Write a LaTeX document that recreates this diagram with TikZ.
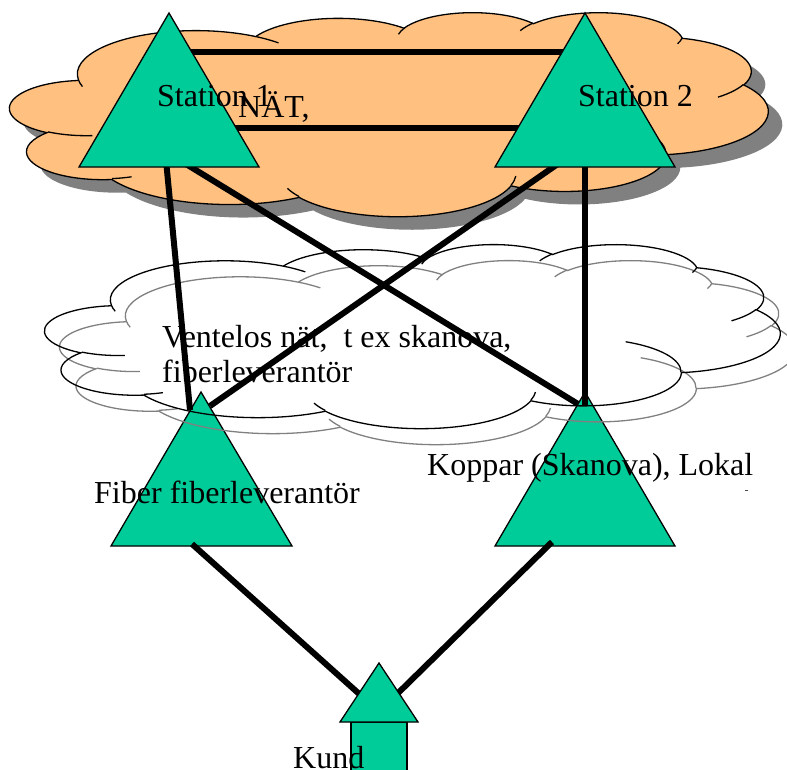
\documentclass[tikz,border=0pt]{standalone}
\usepackage{fontspec}
\setmainfont{Liberation Serif}
\definecolor{cloudorange}{RGB}{255,192,128}
\definecolor{sitegreen}{RGB}{0,204,153}
\definecolor{shadowgray}{RGB}{128,128,128}

% Cloud outline, drawn on a 432 x 432 grid (y pointing down)
\newcommand\cloudshape{(39.00,143.70)
  arc[start angle=-187.75,end angle=-59.64,x radius=67.53,y radius=91.90]
  arc[start angle=-152.03,end angle=-45.44,x radius=53.33,y radius=72.67]
  arc[start angle=-153.49,end angle=-37.32,x radius=43.65,y radius=59.45]
  arc[start angle=-139.72,end angle=-10.21,x radius=48.57,y radius=65.95]
  arc[start angle=-74.77,end angle=23.21,x radius=53.33,y radius=72.73]
  arc[start angle=-37.53,end angle=81.86,x radius=67.75,y radius=92.20]
  arc[start angle=0.46,end angle=121.98,x radius=57.85,y radius=78.67]
  arc[start angle=16.84,end angle=146.23,x radius=67.52,y radius=92.15]
  arc[start angle=58.98,end angle=150.20,x radius=77.20,y radius=105.43]
  arc[start angle=83.31,end angle=223.08,x radius=43.60,y radius=59.18]
  arc[start angle=120.35,end angle=264.11,x radius=43.45,y radius=59.45] -- cycle}
% inner creases between the puffs
\newcommand\cloudcreases{%
  (46.93,261.77) arc[start angle=85.55,end angle=120.35,x radius=43.45,y radius=59.45]
  (69.28,348.99) arc[start angle=68.23,end angle=83.31,x radius=43.60,y radius=59.18]
  (164.78,390.90) arc[start angle=146.23,end angle=158.47,x radius=67.52,y radius=92.15]
  (288.27,347.51) arc[start angle=4.74,end angle=16.84,x radius=67.52,y radius=92.15]
  (341.29,229.54) arc[start angle=-64.03,end angle=0.46,x radius=57.85,y radius=78.67]
  (417.98,153.54) arc[start angle=23.21,end angle=49.65,x radius=53.33,y radius=72.73]
  (383.24,54.26) arc[start angle=10.21,end angle=21.88,x radius=48.57,y radius=65.95]
  (290.78,39.52) arc[start angle=-156.29,end angle=-139.72,x radius=48.57,y radius=65.95]
  (221.41,47.20) arc[start angle=-167.73,end angle=-153.49,x radius=43.65,y radius=59.45]
  (140.00,51.92) arc[start angle=-59.64,end angle=-45.73,x radius=67.53,y radius=91.90]
  (41.27,157.89) arc[start angle=163.19,end angle=172.25,x radius=67.53,y radius=91.90]}

\tikzset{
  station/.style={fill=sitegreen, draw=black, line width=1.3pt, line join=miter},
  wire/.style={line width=6pt, draw=black},
  cloudline/.style={line width=1.3pt},
  txt/.style={inner sep=0pt, anchor=base west, font=\fontsize{32}{35}\selectfont}
}

\begin{document}
\begin{tikzpicture}[x=1pt,y=-1pt]
\useasboundingbox (0,0) rectangle (787,769);
\clip (0,0) rectangle (787,769);

% ---- core network cloud ----
\begin{scope}[shift={(24,25)}, x=1.75463pt, y=-0.47222pt]
  \fill[shadowgray] \cloudshape;
\end{scope}
\begin{scope}[shift={(10,12)}, x=1.75463pt, y=-0.47222pt]
  \filldraw[fill=cloudorange, draw=black, cloudline] \cloudshape;
  \draw[cloudline] \cloudcreases;
\end{scope}

% ---- access triangles ----
\coordinate (fitop) at (201,392); \coordinate (fil) at (111,546); \coordinate (fir) at (292,546);
\coordinate (kotop) at (585,392); \coordinate (kol) at (495,546); \coordinate (kor) at (675,546);
\draw[station] (fitop) -- (fir) -- (fil) -- cycle;
\draw[station] (kotop) -- (kor) -- (kol) -- cycle;

% ---- open access cloud (outline with grey shadow outline) ----
\begin{scope}[shift={(60,260)}, x=1.70139pt, y=-0.425926pt]
  \draw[shadowgray, cloudline] \cloudshape;
  \draw[shadowgray, cloudline] \cloudcreases;
\end{scope}
\begin{scope}[shift={(45,244)}, x=1.70139pt, y=-0.425926pt]
  \draw[black, cloudline] \cloudshape;
  \draw[black, cloudline] \cloudcreases;
\end{scope}

% ---- connection points ----
\coordinate (s1h1) at (175,52);  \coordinate (s2h1) at (580,52);
\coordinate (s1h2) at (175,128); \coordinate (s2h2) at (580,128);
\coordinate (s1d1) at (166,160); \coordinate (fiin1) at (190,410);
\coordinate (s1d2) at (181,161); \coordinate (koin1) at (578,404);
\coordinate (s2d1) at (562,161); \coordinate (fiin2) at (210,406);
\coordinate (s2d2) at (585,160); \coordinate (koin2) at (585,405);
\coordinate (fiout) at (192,544); \coordinate (kuin1) at (366,700);
\coordinate (koout) at (552,542); \coordinate (kuin2) at (391,700);

% ---- links ----
\draw[wire] (s1h1) -- (s2h1);
\draw[wire] (s1h2) -- (s2h2);
\draw[wire] (s1d1) -- (fiin1);
\draw[wire] (s1d2) -- (koin1);
\draw[wire] (s2d1) -- (fiin2);
\draw[wire] (s2d2) -- (koin2);
\draw[wire] (fiout) -- (kuin1);
\draw[wire] (koout) -- (kuin2);

% ---- stations ----
\coordinate (s1top) at (169,13); \coordinate (s1l) at (79,167); \coordinate (s1r) at (259,167);
\coordinate (s2top) at (585,13); \coordinate (s2l) at (495,167); \coordinate (s2r) at (675,167);
\draw[station] (s1top) -- (s1r) -- (s1l) -- cycle;
\draw[station] (s2top) -- (s2r) -- (s2l) -- cycle;

% ---- customer house ----
\coordinate (kutop) at (379,663); \coordinate (kul) at (340,722); \coordinate (kur) at (418,722);
\draw[station] (351,722) rectangle (407,790);
\draw[station] (kutop) -- (kur) -- (kul) -- cycle;

% ---- labels ----
\node[txt] (st1) at (157,106) {Station 1};
\node[txt] (nat) at (238,117) {NÄT,};
\node[txt] (st2) at (578,106) {Station 2};
\node[txt] (ven1) at (162,347) {Ventelos nät,\ \ t ex skanova,};
\node[txt] (ven2) at (162,382) {fiberleverantör};
\node[txt] (fib) at (94,503) {Fiber fiberleverantör};
\node[txt] (kop) at (427,475) {Koppar (Skanova), Lokal};
\node[txt] (kund) at (293,768) {Kund};
\draw[line width=0.8pt, black!70] (745,490) -- (748,490);
\end{tikzpicture}
\end{document}
